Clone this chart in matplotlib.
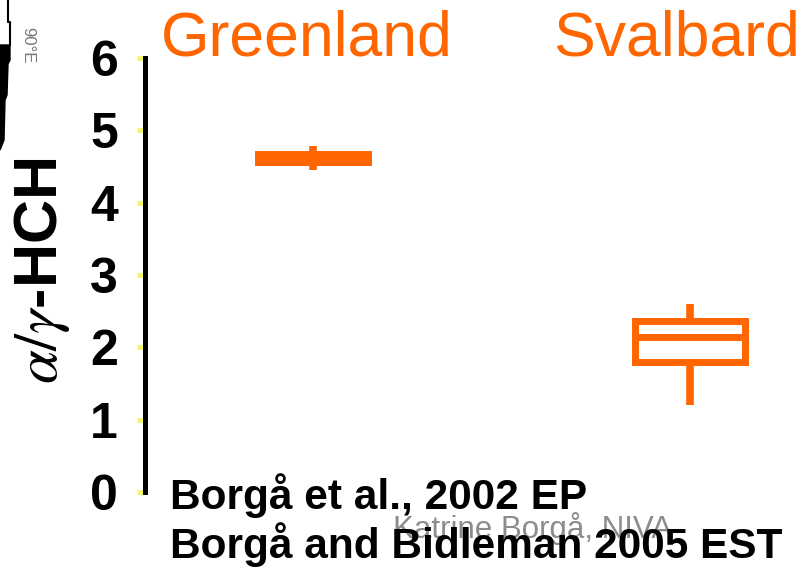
import matplotlib
matplotlib.use('Agg')
import matplotlib.pyplot as plt
from matplotlib.patches import Polygon

plt.rcParams['font.family'] = ['Liberation Sans', 'DejaVu Sans']
plt.rcParams['mathtext.fontset'] = 'stix'

# data
sites = ['Greenland', 'Svalbard']
whislo = [4.45, 1.20]
q1 = [4.56, 1.80]
med = [4.62, 2.14]
q3 = [4.67, 2.36]
whishi = [4.78, 2.60]
yticks = [0, 1, 2, 3, 4, 5, 6]

orange = '#ff6600'

fig = plt.figure(figsize=(8.05, 5.7), dpi=100)
ax = fig.add_axes([145 / 805, 1 - 492 / 570, 1 - 145 / 805, (492 - 58) / 570])

stats = []
for i in range(len(sites)):
    stats.append(dict(label=sites[i], whislo=whislo[i], q1=q1[i], med=med[i],
                      q3=q3[i], whishi=whishi[i]))

bp = ax.bxp(stats, positions=[1, 2], widths=0.29, showcaps=False, showfliers=False,
            patch_artist=True,
            boxprops=dict(edgecolor=orange, linewidth=5),
            medianprops=dict(color=orange, linewidth=5, solid_capstyle='butt'),
            whiskerprops=dict(color=orange, linewidth=5.5, solid_capstyle='butt'))
bp['boxes'][0].set_facecolor(orange)
bp['boxes'][1].set_facecolor('white')

ax.set_xlim(0.554, 2.305)
ax.set_ylim(0, 6)
ax.set_yticks(yticks)
ax.set_yticklabels([str(v) for v in yticks], fontsize=36, fontweight='bold')
ax.tick_params(axis='y', length=5.5, width=3.5, color='#f5f56a', pad=14)
ax.set_xticks([])
for s in ['top', 'right', 'bottom']:
    ax.spines[s].set_visible(False)
ax.spines['left'].set_linewidth(3.6)
ax.spines['left'].set_color('black')
ax.patch.set_alpha(0)

# site names above the boxes
fig.text(307 / 805, 1 - 55 / 570, sites[0], color=orange, fontsize=45,
         ha='center', va='baseline')
fig.text(553 / 805, 1 - 55 / 570, sites[1], color=orange, fontsize=45,
         ha='left', va='baseline')

# y label
fig.text(42 / 805, 1 - 271 / 570, r'$\alpha/\gamma$-HCH', rotation=90, fontsize=44,
         fontweight='bold', ha='center', va='center')

# references
fig.text(393 / 805, 1 - 538 / 570, 'Katrine Borgå, NIVA', color='#8c8c8c',
         fontsize=22.5, va='baseline')
fig.text(170 / 805, 1 - 509 / 570, 'Borgå et al., 2002 EP', fontsize=30.5,
         fontweight='bold', va='baseline')
fig.text(170 / 805, 1 - 558 / 570, 'Borgå and Bidleman 2005 EST', fontsize=30.5,
         fontweight='bold', va='baseline')

# bit of the map cut off at the left edge
W, H = 805, 570
fig.lines.append(plt.Line2D([8 / W, 8 / W, 10 / W, 10 / W],
                            [1, 1 - 22 / H, 1 - 22 / H, 1 - 45 / H], color='black',
                            linewidth=1.5, transform=fig.transFigure))
edge = [(0, 45), (10, 45), (10, 60), (8, 64), (7, 95), (5, 100), (4, 140), (0, 150)]
fig.patches.append(Polygon([(x / W, 1 - y / H) for x, y in edge], closed=True,
                           facecolor='black', edgecolor='black',
                           transform=fig.transFigure))
fig.text(28 / W, 1 - 45 / H, '90°E', rotation=-90, fontsize=12, color='#777777',
         ha='center', va='center')

fig.savefig('out.png', dpi=100)
